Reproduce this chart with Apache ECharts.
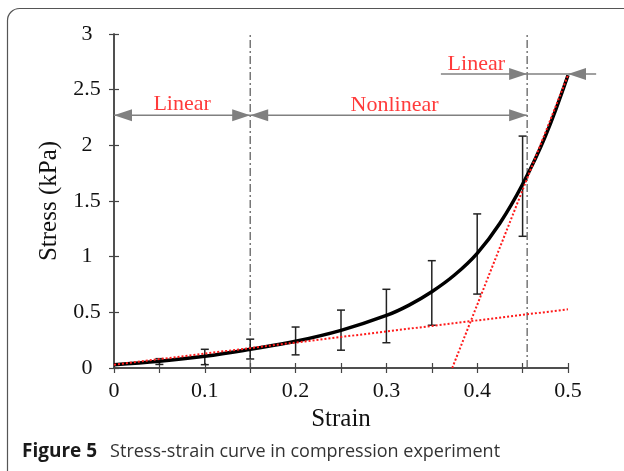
<!DOCTYPE html>
<html>
<head>
<meta charset="utf-8">
<style>
  html, body { margin: 0; padding: 0; background: #fff; }
  #chart { width: 624px; height: 471px; }
</style>
<script src="https://cdn.jsdelivr.net/npm/echarts@6/dist/echarts.min.js"></script>
</head>
<body>
<div id="chart"></div>
<script>
// Mean stress-strain curve (kPa)
const curveStrain = [0, 0.05, 0.1, 0.15, 0.2, 0.25, 0.3, 0.325, 0.35, 0.375, 0.4, 0.425, 0.45, 0.475, 0.5];
const curveStress = [0.03, 0.06, 0.105, 0.168, 0.24, 0.338, 0.472, 0.565, 0.685, 0.835, 1.03, 1.3, 1.65, 2.08, 2.63];

// Measured samples with standard deviation
const sampleStrain = [0.05, 0.1, 0.15, 0.2, 0.25, 0.3, 0.35, 0.4, 0.45];
const sampleMean = [0.058, 0.099, 0.17, 0.243, 0.34, 0.467, 0.674, 1.024, 1.633];
const sampleDev = [0.026, 0.069, 0.089, 0.125, 0.18, 0.24, 0.29, 0.36, 0.45];

// Linear fits of the two regimes
const fitLow = [[0, 0.03], [0.5, 0.527]];
const fitHigh = [[0.3725, 0], [0.5, 2.63]];

// Regime boundaries (strain)
const boundaries = [0.15, 0.455];

// Range arrows: [x start, x end, stress level]
const arrowLines = [[0, 0.455, 2.27], [0.36, 0.531, 2.64]];
// Arrow heads: [tip strain, stress level, direction (-1 left, 1 right)]
const arrowHeads = [[0, 2.27, -1], [0.15, 2.27, 1], [0.15, 2.27, -1], [0.455, 2.27, 1], [0.455, 2.64, 1], [0.5, 2.64, -1]];
// Region labels: [strain, stress, text]
const regionLabels = [[0.075, 2.37, 'Linear'], [0.309, 2.36, 'Nonlinear'], [0.399, 2.73, 'Linear']];

const xTicks = { min: 0, max: 0.5, step: 0.05 };
const yTicks = { min: 0, max: 3, step: 0.5 };

const serif = '"Liberation Serif", "Times New Roman", Times, serif';
const sans = '"Open Sans", "Noto Sans", sans-serif';
const axisColor = '#444';

const chart = echarts.init(document.getElementById('chart'), null, { renderer: 'canvas' });

const xLabel = v => {
  const r = Math.round(v * 100);
  return r % 10 === 0 ? String(r / 100) : '';
};

const option = {
  animation: false,
  backgroundColor: '#fff',
  grid: { left: 114, top: 34, right: 56, bottom: 103, show: false },
  xAxis: [{
    type: 'value', min: xTicks.min, max: xTicks.max, interval: xTicks.step,
    name: 'Strain', nameLocation: 'middle', nameGap: 37,
    nameTextStyle: { fontFamily: serif, fontSize: 25, color: '#111' },
    axisLine: { show: true, lineStyle: { color: axisColor, width: 1.5 } },
    axisTick: { show: true, inside: true, length: 5, lineStyle: { color: axisColor, width: 1.2 } },
    axisLabel: { formatter: xLabel, fontFamily: serif, fontSize: 22, color: '#111', margin: 12, showMinLabel: true, showMaxLabel: true },
    splitLine: { show: false }
  }, {
    type: 'value', position: 'top', min: xTicks.min, max: xTicks.max, interval: xTicks.step,
    axisLine: { show: true, lineStyle: { color: axisColor, width: 1.5 } },
    axisTick: { show: true, inside: true, length: 5, lineStyle: { color: axisColor, width: 1.2 } },
    axisLabel: { show: false }, splitLine: { show: false }
  }],
  yAxis: [{
    type: 'value', min: yTicks.min, max: yTicks.max, interval: yTicks.step,
    name: 'Stress (kPa)', nameLocation: 'middle', nameGap: 52, nameRotate: 90,
    nameTextStyle: { fontFamily: serif, fontSize: 25, color: '#111' },
    axisLine: { show: true, lineStyle: { color: axisColor, width: 1.5 } },
    axisTick: { show: true, inside: true, length: 5, lineStyle: { color: axisColor, width: 1.2 } },
    axisLabel: { fontFamily: serif, fontSize: 22, color: '#111', margin: 27, align: 'center' },
    splitLine: { show: false }
  }, {
    type: 'value', position: 'right', min: yTicks.min, max: yTicks.max, interval: yTicks.step,
    axisLine: { show: true, lineStyle: { color: axisColor, width: 1.5 } },
    axisTick: { show: true, inside: true, length: 5, lineStyle: { color: axisColor, width: 1.2 } },
    axisLabel: { show: false }, splitLine: { show: false }
  }],
  graphic: [{
    type: 'rect', left: 5, top: 6, silent: true, z: -1,
    shape: { width: 630, height: 480, r: 12 },
    style: { fill: 'none', stroke: '#555', lineWidth: 1.2 }
  }, {
    type: 'text', left: 22, top: 442,
    style: {
      rich: {
        b: { fontFamily: sans, fontWeight: 'bold', fontSize: 19, fill: '#1a1a1a', padding: [0, 13, 0, 0] },
        n: { fontFamily: sans, fontSize: 18, fill: '#333' }
      },
      text: '{b|Figure 5}{n|Stress-strain curve in compression experiment}'
    }
  }],
  series: [{
    name: 'boundaries', type: 'custom', z: 1, clip: false,
    data: boundaries.map(b => [b]),
    renderItem: (params, api) => {
      const x = api.value(0);
      const a = api.coord([x, yTicks.min]);
      const b = api.coord([x, yTicks.max]);
      return {
        type: 'line', shape: { x1: a[0], y1: a[1], x2: b[0], y2: b[1] },
        style: { stroke: '#555', lineWidth: 1.2, lineDash: [8, 3, 2, 3] }
      };
    }
  }, {
    name: 'errors', type: 'custom', z: 3, clip: false,
    data: sampleStrain.map((x, i) => [x, sampleMean[i], sampleDev[i]]),
    renderItem: (params, api) => {
      const x = api.value(0), m = api.value(1), d = api.value(2);
      const top = api.coord([x, m + d]);
      const bot = api.coord([x, m - d]);
      const w = 4;
      const style = { stroke: '#222', lineWidth: 1.5 };
      return {
        type: 'group', children: [
          { type: 'line', shape: { x1: top[0], y1: top[1], x2: bot[0], y2: bot[1] }, style },
          { type: 'line', shape: { x1: top[0] - w, y1: top[1], x2: top[0] + w, y2: top[1] }, style },
          { type: 'line', shape: { x1: bot[0] - w, y1: bot[1], x2: bot[0] + w, y2: bot[1] }, style }
        ]
      };
    }
  }, {
    name: 'curve', type: 'line', z: 4, smooth: 0.4, symbol: 'none',
    data: curveStrain.map((x, i) => [x, curveStress[i]]),
    lineStyle: { color: '#000', width: 3.5 }
  }, {
    name: 'fitLow', type: 'line', z: 5, symbol: 'none', data: fitLow,
    lineStyle: { color: '#ff1a1a', width: 2, type: [2, 2] }
  }, {
    name: 'fitHigh', type: 'line', z: 5, symbol: 'none', data: fitHigh,
    lineStyle: { color: '#ff1a1a', width: 2, type: [2, 2] }
  }, {
    name: 'arrowLines', type: 'custom', z: 6, clip: false,
    data: arrowLines,
    renderItem: (params, api) => {
      const a = api.coord([api.value(0), api.value(2)]);
      const b = api.coord([api.value(1), api.value(2)]);
      return { type: 'line', shape: { x1: a[0], y1: a[1], x2: b[0], y2: b[1] }, style: { stroke: '#808080', lineWidth: 1.5 } };
    }
  }, {
    name: 'arrowHeads', type: 'custom', z: 6, clip: false,
    data: arrowHeads,
    renderItem: (params, api) => {
      const p = api.coord([api.value(0), api.value(1)]);
      const dir = api.value(2);
      const len = 18, half = 6;
      return {
        type: 'polygon',
        shape: { points: [[p[0], p[1]], [p[0] - dir * len, p[1] - half], [p[0] - dir * len, p[1] + half]] },
        style: { fill: '#808080' }
      };
    }
  }, {
    name: 'regionLabels', type: 'custom', z: 7, clip: false,
    data: regionLabels,
    renderItem: (params, api) => {
      const p = api.coord([api.value(0), api.value(1)]);
      return {
        type: 'text', x: p[0], y: p[1],
        style: { text: regionLabels[params.dataIndex][2], fontFamily: serif, fontSize: 22, fill: '#ff3b3b', align: 'center', verticalAlign: 'middle' }
      };
    }
  }]
};

chart.setOption(option);
</script>
</body>
</html>
